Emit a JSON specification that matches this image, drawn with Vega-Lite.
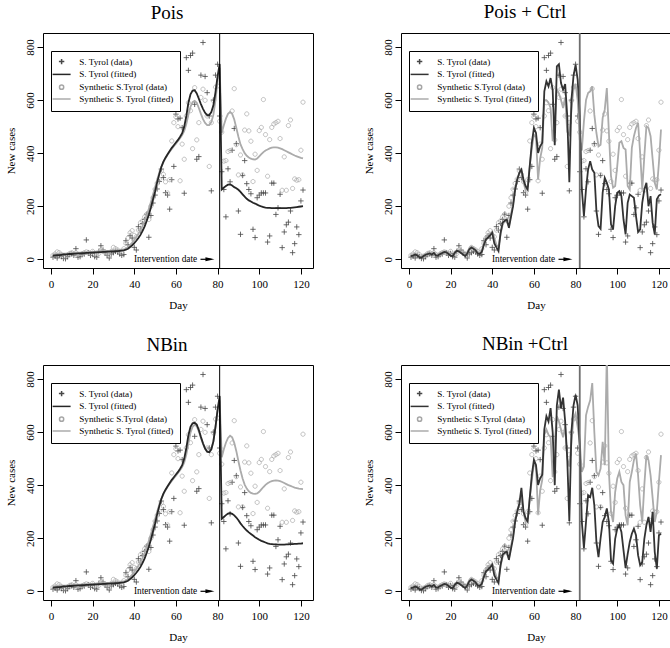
{
"$schema": "https://vega.github.io/schema/vega-lite/v6.json",
"padding": {"left": 4, "top": 2, "right": 0, "bottom": 0},
"columns": 2,
"spacing": {"row": 23, "column": 48},
"resolve": {"scale": {"color": "independent", "shape": "independent", "x": "independent", "y": "independent"}, "legend": {"color": "independent", "shape": "independent"}},
"datasets": {"d": [
{"day":1,"a":8,"b":15,"p1":14,"p2":17,"n1":14,"n2":17,"c1":12,"c2":15,"k1":12,"k2":15},
{"day":2,"a":12,"b":20,"p1":15,"p2":18,"n1":15,"n2":18,"c1":14,"c2":17,"k1":14,"k2":17},
{"day":3,"a":5,"b":28,"p1":16,"p2":19,"n1":16,"n2":19,"c1":18,"c2":22,"k1":18,"k2":22},
{"day":4,"a":15,"b":25,"p1":16,"p2":19,"n1":16,"n2":19,"c1":15,"c2":18,"k1":15,"k2":18},
{"day":5,"a":10,"b":18,"p1":17,"p2":20,"n1":17,"n2":20,"c1":8,"c2":10,"k1":8,"k2":10},
{"day":6,"a":3,"b":10,"p1":18,"p2":21,"n1":18,"n2":21,"c1":6,"c2":9,"k1":6,"k2":9},
{"day":7,"a":2,"b":12,"p1":18,"p2":21,"n1":18,"n2":21,"c1":12,"c2":14,"k1":12,"k2":14},
{"day":8,"a":10,"b":15,"p1":19,"p2":22,"n1":19,"n2":22,"c1":17,"c2":20,"k1":17,"k2":20},
{"day":9,"a":18,"b":22,"p1":20,"p2":23,"n1":20,"n2":23,"c1":20,"c2":23,"k1":20,"k2":23},
{"day":10,"a":20,"b":25,"p1":20,"p2":23,"n1":20,"n2":23,"c1":22,"c2":24,"k1":22,"k2":24},
{"day":11,"a":15,"b":20,"p1":21,"p2":24,"n1":21,"n2":24,"c1":18,"c2":20,"k1":18,"k2":20},
{"day":12,"a":40,"b":25,"p1":21,"p2":24,"n1":21,"n2":24,"c1":24,"c2":25,"k1":24,"k2":25},
{"day":13,"a":8,"b":18,"p1":22,"p2":25,"n1":22,"n2":25,"c1":14,"c2":16,"k1":14,"k2":16},
{"day":14,"a":10,"b":15,"p1":22,"p2":25,"n1":22,"n2":25,"c1":15,"c2":18,"k1":15,"k2":18},
{"day":15,"a":18,"b":20,"p1":23,"p2":26,"n1":23,"n2":26,"c1":20,"c2":22,"k1":20,"k2":22},
{"day":16,"a":20,"b":25,"p1":23,"p2":26,"n1":23,"n2":26,"c1":24,"c2":26,"k1":24,"k2":26},
{"day":17,"a":73,"b":28,"p1":24,"p2":27,"n1":24,"n2":27,"c1":28,"c2":30,"k1":28,"k2":30},
{"day":18,"a":25,"b":25,"p1":24,"p2":27,"n1":24,"n2":27,"c1":26,"c2":27,"k1":26,"k2":27},
{"day":19,"a":15,"b":22,"p1":25,"p2":28,"n1":25,"n2":28,"c1":20,"c2":22,"k1":20,"k2":22},
{"day":20,"a":22,"b":30,"p1":25,"p2":28,"n1":25,"n2":28,"c1":14,"c2":17,"k1":14,"k2":17},
{"day":21,"a":10,"b":20,"p1":26,"p2":29,"n1":26,"n2":29,"c1":12,"c2":15,"k1":12,"k2":15},
{"day":22,"a":8,"b":15,"p1":26,"p2":29,"n1":26,"n2":29,"c1":24,"c2":26,"k1":24,"k2":26},
{"day":23,"a":30,"b":22,"p1":27,"p2":30,"n1":27,"n2":30,"c1":32,"c2":34,"k1":32,"k2":34},
{"day":24,"a":51,"b":35,"p1":27,"p2":30,"n1":27,"n2":30,"c1":30,"c2":32,"k1":30,"k2":32},
{"day":25,"a":35,"b":30,"p1":28,"p2":31,"n1":28,"n2":31,"c1":24,"c2":27,"k1":24,"k2":27},
{"day":26,"a":25,"b":25,"p1":28,"p2":31,"n1":28,"n2":31,"c1":18,"c2":20,"k1":18,"k2":20},
{"day":27,"a":15,"b":20,"p1":29,"p2":32,"n1":29,"n2":32,"c1":12,"c2":15,"k1":12,"k2":15},
{"day":28,"a":5,"b":15,"p1":29,"p2":32,"n1":29,"n2":32,"c1":22,"c2":25,"k1":22,"k2":25},
{"day":29,"a":20,"b":30,"p1":30,"p2":33,"n1":30,"n2":33,"c1":38,"c2":42,"k1":38,"k2":42},
{"day":30,"a":25,"b":45,"p1":30,"p2":33,"n1":30,"n2":33,"c1":44,"c2":48,"k1":44,"k2":48},
{"day":31,"a":30,"b":40,"p1":31,"p2":34,"n1":31,"n2":34,"c1":40,"c2":44,"k1":40,"k2":44},
{"day":32,"a":28,"b":35,"p1":31,"p2":34,"n1":31,"n2":34,"c1":34,"c2":36,"k1":34,"k2":36},
{"day":33,"a":20,"b":30,"p1":32,"p2":35,"n1":32,"n2":35,"c1":22,"c2":25,"k1":22,"k2":25},
{"day":34,"a":15,"b":25,"p1":33,"p2":36,"n1":33,"n2":36,"c1":20,"c2":23,"k1":20,"k2":23},
{"day":35,"a":18,"b":40,"p1":34,"p2":37,"n1":34,"n2":37,"c1":28,"c2":32,"k1":28,"k2":32},
{"day":36,"a":70,"b":60,"p1":36,"p2":40,"n1":36,"n2":40,"c1":55,"c2":62,"k1":55,"k2":62},
{"day":37,"a":55,"b":80,"p1":40,"p2":46,"n1":40,"n2":46,"c1":75,"c2":85,"k1":75,"k2":85},
{"day":38,"a":89,"b":100,"p1":46,"p2":54,"n1":46,"n2":54,"c1":82,"c2":95,"k1":82,"k2":95},
{"day":39,"a":80,"b":108,"p1":53,"p2":63,"n1":53,"n2":63,"c1":90,"c2":95,"k1":90,"k2":95},
{"day":40,"a":45,"b":90,"p1":61,"p2":73,"n1":61,"n2":73,"c1":100,"c2":105,"k1":100,"k2":105},
{"day":41,"a":35,"b":85,"p1":70,"p2":84,"n1":70,"n2":84,"c1":60,"c2":80,"k1":60,"k2":80},
{"day":42,"a":123,"b":110,"p1":80,"p2":96,"n1":80,"n2":96,"c1":45,"c2":55,"k1":45,"k2":55},
{"day":43,"a":110,"b":138,"p1":92,"p2":110,"n1":92,"n2":110,"c1":31,"c2":45,"k1":31,"k2":45},
{"day":44,"a":135,"b":145,"p1":107,"p2":126,"n1":107,"n2":126,"c1":100,"c2":95,"k1":100,"k2":95},
{"day":45,"a":150,"b":160,"p1":124,"p2":145,"n1":124,"n2":145,"c1":138,"c2":130,"k1":138,"k2":130},
{"day":46,"a":170,"b":170,"p1":145,"p2":166,"n1":145,"n2":166,"c1":145,"c2":145,"k1":145,"k2":145},
{"day":47,"a":83,"b":150,"p1":168,"p2":190,"n1":168,"n2":190,"c1":150,"c2":140,"k1":150,"k2":140},
{"day":48,"a":165,"b":200,"p1":195,"p2":216,"n1":195,"n2":216,"c1":119,"c2":125,"k1":119,"k2":125},
{"day":49,"a":212,"b":232,"p1":225,"p2":244,"n1":225,"n2":244,"c1":160,"c2":170,"k1":160,"k2":170},
{"day":50,"a":242,"b":264,"p1":255,"p2":272,"n1":255,"n2":272,"c1":200,"c2":210,"k1":200,"k2":210},
{"day":51,"a":265,"b":286,"p1":290,"p2":300,"n1":290,"n2":300,"c1":263,"c2":265,"k1":263,"k2":265},
{"day":52,"a":293,"b":302,"p1":320,"p2":326,"n1":320,"n2":326,"c1":301,"c2":300,"k1":301,"k2":300},
{"day":53,"a":340,"b":333,"p1":348,"p2":348,"n1":348,"n2":348,"c1":326,"c2":325,"k1":330,"k2":330},
{"day":54,"a":308,"b":320,"p1":368,"p2":366,"n1":368,"n2":366,"c1":338,"c2":330,"k1":390,"k2":350},
{"day":55,"a":251,"b":292,"p1":383,"p2":381,"n1":383,"n2":381,"c1":300,"c2":290,"k1":300,"k2":300},
{"day":56,"a":242,"b":250,"p1":396,"p2":394,"n1":396,"n2":394,"c1":276,"c2":260,"k1":276,"k2":260},
{"day":57,"a":189,"b":300,"p1":408,"p2":405,"n1":408,"n2":405,"c1":263,"c2":275,"k1":263,"k2":275},
{"day":58,"a":300,"b":446,"p1":420,"p2":416,"n1":420,"n2":416,"c1":351,"c2":350,"k1":351,"k2":350},
{"day":59,"a":350,"b":515,"p1":430,"p2":426,"n1":430,"n2":426,"c1":439,"c2":420,"k1":439,"k2":420},
{"day":60,"a":547,"b":537,"p1":440,"p2":436,"n1":440,"n2":436,"c1":495,"c2":470,"k1":495,"k2":480},
{"day":61,"a":529,"b":500,"p1":450,"p2":446,"n1":450,"n2":446,"c1":476,"c2":460,"k1":476,"k2":470},
{"day":62,"a":532,"b":296,"p1":462,"p2":456,"n1":462,"n2":456,"c1":401,"c2":300,"k1":401,"k2":290},
{"day":63,"a":496,"b":434,"p1":475,"p2":468,"n1":475,"n2":468,"c1":426,"c2":380,"k1":426,"k2":380},
{"day":64,"a":249,"b":377,"p1":500,"p2":484,"n1":500,"n2":486,"c1":439,"c2":420,"k1":439,"k2":420},
{"day":65,"a":760,"b":540,"p1":540,"p2":510,"n1":540,"n2":515,"c1":633,"c2":600,"k1":610,"k2":590},
{"day":66,"a":712,"b":590,"p1":590,"p2":545,"n1":588,"n2":558,"c1":671,"c2":600,"k1":660,"k2":610},
{"day":67,"a":768,"b":560,"p1":622,"p2":575,"n1":620,"n2":598,"c1":652,"c2":590,"k1":640,"k2":590},
{"day":68,"a":777,"b":417,"p1":636,"p2":592,"n1":633,"n2":620,"c1":683,"c2":570,"k1":690,"k2":580},
{"day":69,"a":584,"b":647,"p1":637,"p2":597,"n1":635,"n2":628,"c1":639,"c2":445,"k1":600,"k2":430},
{"day":70,"a":377,"b":450,"p1":625,"p2":590,"n1":628,"n2":622,"c1":430,"c2":520,"k1":400,"k2":560},
{"day":71,"a":387,"b":515,"p1":605,"p2":570,"n1":608,"n2":602,"c1":727,"c2":640,"k1":700,"k2":660},
{"day":72,"a":694,"b":610,"p1":585,"p2":548,"n1":582,"n2":578,"c1":735,"c2":625,"k1":760,"k2":640},
{"day":73,"a":817,"b":641,"p1":567,"p2":528,"n1":558,"n2":555,"c1":664,"c2":600,"k1":690,"k2":610},
{"day":74,"a":689,"b":599,"p1":552,"p2":514,"n1":538,"n2":537,"c1":639,"c2":570,"k1":730,"k2":580},
{"day":75,"a":628,"b":540,"p1":543,"p2":506,"n1":526,"n2":526,"c1":660,"c2":610,"k1":640,"k2":620},
{"day":76,"a":540,"b":350,"p1":543,"p2":506,"n1":524,"n2":524,"c1":540,"c2":480,"k1":500,"k2":500},
{"day":77,"a":258,"b":515,"p1":555,"p2":517,"n1":535,"n2":536,"c1":290,"c2":470,"k1":265,"k2":470},
{"day":78,"a":600,"b":597,"p1":580,"p2":545,"n1":565,"n2":566,"c1":600,"c2":560,"k1":600,"k2":560},
{"day":79,"a":694,"b":649,"p1":630,"p2":600,"n1":620,"n2":620,"c1":690,"c2":640,"k1":700,"k2":650},
{"day":80,"a":735,"b":653,"p1":690,"p2":670,"n1":685,"n2":680,"c1":733,"c2":660,"k1":740,"k2":670},
{"day":81,"a":540,"b":520,"p1":735,"p2":722,"n1":735,"n2":720,"c1":677,"c2":600,"k1":701,"k2":620},
{"day":82,"a":330,"b":479,"p1":263,"p2":476,"n1":273,"n2":505,"c1":545,"c2":450,"k1":550,"k2":560},
{"day":83,"a":263,"b":370,"p1":270,"p2":505,"n1":280,"n2":535,"c1":263,"c2":410,"k1":261,"k2":450},
{"day":84,"a":160,"b":372,"p1":276,"p2":530,"n1":287,"n2":560,"c1":163,"c2":520,"k1":163,"k2":470},
{"day":85,"a":341,"b":406,"p1":281,"p2":548,"n1":293,"n2":578,"c1":263,"c2":600,"k1":261,"k2":663},
{"day":86,"a":292,"b":410,"p1":282,"p2":555,"n1":295,"n2":586,"c1":338,"c2":627,"k1":362,"k2":695},
{"day":87,"a":411,"b":559,"p1":278,"p2":548,"n1":292,"n2":580,"c1":370,"c2":633,"k1":355,"k2":720},
{"day":88,"a":493,"b":643,"p1":272,"p2":527,"n1":286,"n2":560,"c1":338,"c2":652,"k1":390,"k2":785},
{"day":89,"a":436,"b":432,"p1":268,"p2":495,"n1":278,"n2":528,"c1":326,"c2":545,"k1":324,"k2":600},
{"day":90,"a":182,"b":318,"p1":262,"p2":462,"n1":268,"n2":490,"c1":182,"c2":476,"k1":186,"k2":450},
{"day":91,"a":94,"b":393,"p1":254,"p2":433,"n1":256,"n2":455,"c1":125,"c2":426,"k1":129,"k2":437},
{"day":92,"a":316,"b":318,"p1":245,"p2":415,"n1":246,"n2":425,"c1":115,"c2":432,"k1":200,"k2":462},
{"day":93,"a":372,"b":487,"p1":236,"p2":400,"n1":237,"n2":402,"c1":251,"c2":533,"k1":261,"k2":563},
{"day":94,"a":285,"b":548,"p1":228,"p2":390,"n1":229,"n2":387,"c1":307,"c2":564,"k1":280,"k2":475},
{"day":95,"a":263,"b":484,"p1":222,"p2":384,"n1":222,"n2":377,"c1":288,"c2":645,"k1":312,"k2":900},
{"day":96,"a":247,"b":445,"p1":218,"p2":379,"n1":216,"n2":371,"c1":263,"c2":476,"k1":261,"k2":450},
{"day":97,"a":113,"b":293,"p1":213,"p2":377,"n1":210,"n2":368,"c1":132,"c2":313,"k1":117,"k2":299},
{"day":98,"a":82,"b":396,"p1":210,"p2":376,"n1":204,"n2":367,"c1":113,"c2":270,"k1":104,"k2":261},
{"day":99,"a":232,"b":335,"p1":206,"p2":380,"n1":199,"n2":369,"c1":200,"c2":276,"k1":198,"k2":374},
{"day":100,"a":242,"b":485,"p1":202,"p2":388,"n1":194,"n2":375,"c1":251,"c2":351,"k1":236,"k2":425},
{"day":101,"a":250,"b":497,"p1":199,"p2":396,"n1":190,"n2":384,"c1":257,"c2":439,"k1":249,"k2":450},
{"day":102,"a":250,"b":602,"p1":197,"p2":404,"n1":187,"n2":393,"c1":238,"c2":445,"k1":224,"k2":412},
{"day":103,"a":250,"b":470,"p1":195,"p2":410,"n1":184,"n2":401,"c1":150,"c2":420,"k1":155,"k2":400},
{"day":104,"a":65,"b":313,"p1":194,"p2":414,"n1":181,"n2":407,"c1":94,"c2":414,"k1":88,"k2":286},
{"day":105,"a":88,"b":451,"p1":194,"p2":418,"n1":179,"n2":412,"c1":213,"c2":276,"k1":140,"k2":249},
{"day":106,"a":287,"b":497,"p1":193,"p2":421,"n1":178,"n2":415,"c1":244,"c2":263,"k1":186,"k2":412},
{"day":107,"a":287,"b":510,"p1":193,"p2":422,"n1":177,"n2":417,"c1":238,"c2":420,"k1":217,"k2":450},
{"day":108,"a":169,"b":515,"p1":193,"p2":422,"n1":177,"n2":418,"c1":232,"c2":464,"k1":236,"k2":494},
{"day":109,"a":194,"b":520,"p1":193,"p2":421,"n1":176,"n2":417,"c1":163,"c2":495,"k1":211,"k2":519},
{"day":110,"a":245,"b":455,"p1":193,"p2":418,"n1":176,"n2":415,"c1":103,"c2":514,"k1":136,"k2":437},
{"day":111,"a":44,"b":260,"p1":193,"p2":415,"n1":176,"n2":412,"c1":113,"c2":400,"k1":98,"k2":324},
{"day":112,"a":103,"b":386,"p1":193,"p2":411,"n1":176,"n2":408,"c1":213,"c2":263,"k1":110,"k2":261},
{"day":113,"a":130,"b":260,"p1":193,"p2":407,"n1":177,"n2":404,"c1":263,"c2":389,"k1":198,"k2":400},
{"day":114,"a":140,"b":504,"p1":194,"p2":403,"n1":177,"n2":400,"c1":288,"c2":501,"k1":249,"k2":513},
{"day":115,"a":182,"b":525,"p1":194,"p2":399,"n1":178,"n2":397,"c1":200,"c2":495,"k1":280,"k2":494},
{"day":116,"a":25,"b":267,"p1":195,"p2":395,"n1":178,"n2":394,"c1":238,"c2":464,"k1":224,"k2":437},
{"day":117,"a":59,"b":303,"p1":196,"p2":391,"n1":179,"n2":391,"c1":138,"c2":376,"k1":299,"k2":350},
{"day":118,"a":122,"b":298,"p1":197,"p2":388,"n1":179,"n2":389,"c1":94,"c2":288,"k1":148,"k2":261},
{"day":119,"a":93,"b":300,"p1":198,"p2":385,"n1":180,"n2":387,"c1":226,"c2":263,"k1":85,"k2":300},
{"day":120,"a":220,"b":411,"p1":199,"p2":382,"n1":180,"n2":386,"c1":240,"c2":364,"k1":211,"k2":412},
{"day":121,"a":261,"b":592,"p1":200,"p2":380,"n1":181,"n2":385,"c1":245,"c2":489,"k1":217,"k2":513}
]},
"concat": [
{"title": "Pois", "width": 270, "height": 235,
 "layer": [
  {"data": {"name": "d"}, "mark": {"type": "point", "filled": false, "opacity": 1, "size": 36, "strokeWidth": 0.8},
   "encoding": {
    "x": {"field": "day", "type": "quantitative", "scale": {"domain": [-3.8, 125.8], "nice": false, "zero": false}, "axis": {"values": [0,20,40,60,80,100,120], "title": "Day"}},
    "y": {"field": "a", "type": "quantitative", "scale": {"domain": [-32.8, 852.8], "nice": false, "zero": false}, "axis": {"values": [0,200,400,600,800], "title": "New cases"}},
    "shape": {"datum": "S. Tyrol (data)", "scale": {"domain": ["S. Tyrol (data)", "S. Tyrol (fitted)", "Synthetic S.Tyrol (data)", "Synthetic S. Tyrol (fitted)"], "range": ["M-0.9,0H0.9M0,-0.9V0.9", "M-3,0H3", "M0.7,0A0.7,0.7,0,1,1,-0.7,0A0.7,0.7,0,1,1,0.7,0Z", "M-3,0H3"]},
      "legend": {"title": null, "orient": "none", "legendX": 8, "legendY": 18, "strokeColor": "#000", "fillColor": "#fff", "padding": 6, "labelFontSize": 9.2, "labelColor": "#000", "labelLimit": 0, "labelOffset": 13, "symbolSize": 36, "rowPadding": 1.8, "encode": {"symbols": {"update": {"strokeWidth": {"signal": "indexof(datum.value, 'fitted') >= 0 ? 2 : 0.9"}, "opacity": {"value": 1}}}}}},
    "color": {"datum": "S. Tyrol (data)", "scale": {"domain": ["S. Tyrol (data)", "S. Tyrol (fitted)", "Synthetic S.Tyrol (data)", "Synthetic S. Tyrol (fitted)"], "range": ["#474747", "#262626", "#a6a6a6", "#ababab"]},
      "legend": {"title": null, "orient": "none", "legendX": 8, "legendY": 18, "strokeColor": "#000", "fillColor": "#fff", "padding": 6, "labelFontSize": 9.2, "labelColor": "#000", "labelLimit": 0, "labelOffset": 13, "symbolSize": 36, "rowPadding": 1.8, "encode": {"symbols": {"update": {"strokeWidth": {"signal": "indexof(datum.value, 'fitted') >= 0 ? 2 : 0.9"}, "opacity": {"value": 1}}}}}}
   }},
  {"data": {"name": "d"}, "mark": {"type": "point", "filled": false, "opacity": 1, "size": 36, "strokeWidth": 0.7},
   "encoding": {"x": {"field": "day", "type": "quantitative"}, "y": {"field": "b", "type": "quantitative"}, "shape": {"datum": "Synthetic S.Tyrol (data)"}, "color": {"datum": "Synthetic S.Tyrol (data)"}}},
  {"data": {"name": "d"}, "mark": {"type": "line", "strokeWidth": 1.8, "clip": true},
   "encoding": {"x": {"field": "day", "type": "quantitative"}, "y": {"field": "p2", "type": "quantitative"}, "color": {"datum": "Synthetic S. Tyrol (fitted)"}}},
  {"data": {"name": "d"}, "mark": {"type": "line", "strokeWidth": 1.8, "clip": true},
   "encoding": {"x": {"field": "day", "type": "quantitative"}, "y": {"field": "p1", "type": "quantitative"}, "color": {"datum": "S. Tyrol (fitted)"}}},
  {"data": {"values": [{"day": 81}]}, "mark": {"type": "rule", "color": "#000", "strokeWidth": 1}, "encoding": {"x": {"field": "day", "type": "quantitative"}}},
  {"data": {"values": [{"day": 70.2, "v": 0, "t": "Intervention date"}]}, "mark": {"type": "text", "align": "right", "baseline": "middle", "fontSize": 9.3, "color": "#000"},
   "encoding": {"x": {"field": "day", "type": "quantitative"}, "y": {"field": "v", "type": "quantitative"}, "text": {"field": "t"}}},
  {"data": {"values": [{"day": 71.8, "day2": 77, "v": 0}]}, "mark": {"type": "rule", "color": "#000", "strokeWidth": 1.2},
   "encoding": {"x": {"field": "day", "type": "quantitative"}, "x2": {"field": "day2"}, "y": {"field": "v", "type": "quantitative"}}},
  {"data": {"values": [{"day": 78.5, "v": 0}]}, "mark": {"type": "point", "shape": "M-2,-0.45L0,0L-2,0.45Z", "size": 81, "filled": true, "color": "#000", "opacity": 1, "strokeWidth": 0},
   "encoding": {"x": {"field": "day", "type": "quantitative"}, "y": {"field": "v", "type": "quantitative"}}}
 ]},
{"title": "Pois + Ctrl", "width": 270, "height": 235,
 "layer": [
  {"data": {"name": "d"}, "mark": {"type": "point", "filled": false, "opacity": 1, "size": 36, "strokeWidth": 0.8},
   "encoding": {
    "x": {"field": "day", "type": "quantitative", "scale": {"domain": [-3.8, 125.8], "nice": false, "zero": false}, "axis": {"values": [0,20,40,60,80,100,120], "title": "Day"}},
    "y": {"field": "a", "type": "quantitative", "scale": {"domain": [-32.8, 852.8], "nice": false, "zero": false}, "axis": {"values": [0,200,400,600,800], "title": "New cases"}},
    "shape": {"datum": "S. Tyrol (data)", "scale": {"domain": ["S. Tyrol (data)", "S. Tyrol (fitted)", "Synthetic S.Tyrol (data)", "Synthetic S. Tyrol (fitted)"], "range": ["M-0.9,0H0.9M0,-0.9V0.9", "M-3,0H3", "M0.7,0A0.7,0.7,0,1,1,-0.7,0A0.7,0.7,0,1,1,0.7,0Z", "M-3,0H3"]},
      "legend": {"title": null, "orient": "none", "legendX": 8, "legendY": 18, "strokeColor": "#000", "fillColor": "#fff", "padding": 6, "labelFontSize": 9.2, "labelColor": "#000", "labelLimit": 0, "labelOffset": 13, "symbolSize": 36, "rowPadding": 1.8, "encode": {"symbols": {"update": {"strokeWidth": {"signal": "indexof(datum.value, 'fitted') >= 0 ? 2 : 0.9"}, "opacity": {"value": 1}}}}}},
    "color": {"datum": "S. Tyrol (data)", "scale": {"domain": ["S. Tyrol (data)", "S. Tyrol (fitted)", "Synthetic S.Tyrol (data)", "Synthetic S. Tyrol (fitted)"], "range": ["#474747", "#333333", "#a6a6a6", "#ababab"]},
      "legend": {"title": null, "orient": "none", "legendX": 8, "legendY": 18, "strokeColor": "#000", "fillColor": "#fff", "padding": 6, "labelFontSize": 9.2, "labelColor": "#000", "labelLimit": 0, "labelOffset": 13, "symbolSize": 36, "rowPadding": 1.8, "encode": {"symbols": {"update": {"strokeWidth": {"signal": "indexof(datum.value, 'fitted') >= 0 ? 2 : 0.9"}, "opacity": {"value": 1}}}}}}
   }},
  {"data": {"name": "d"}, "mark": {"type": "point", "filled": false, "opacity": 1, "size": 36, "strokeWidth": 0.7},
   "encoding": {"x": {"field": "day", "type": "quantitative"}, "y": {"field": "b", "type": "quantitative"}, "shape": {"datum": "Synthetic S.Tyrol (data)"}, "color": {"datum": "Synthetic S.Tyrol (data)"}}},
  {"data": {"name": "d"}, "mark": {"type": "line", "strokeWidth": 1.8, "clip": true},
   "encoding": {"x": {"field": "day", "type": "quantitative"}, "y": {"field": "c2", "type": "quantitative"}, "color": {"datum": "Synthetic S. Tyrol (fitted)"}}},
  {"data": {"name": "d"}, "mark": {"type": "line", "strokeWidth": 1.8, "clip": true},
   "encoding": {"x": {"field": "day", "type": "quantitative"}, "y": {"field": "c1", "type": "quantitative"}, "color": {"datum": "S. Tyrol (fitted)"}}},
  {"data": {"values": [{"day": 82}]}, "mark": {"type": "rule", "color": "#6e6e6e", "strokeWidth": 1.8}, "encoding": {"x": {"field": "day", "type": "quantitative"}}},
  {"data": {"values": [{"day": 70.2, "v": 0, "t": "Intervention date"}]}, "mark": {"type": "text", "align": "right", "baseline": "middle", "fontSize": 9.3, "color": "#000"},
   "encoding": {"x": {"field": "day", "type": "quantitative"}, "y": {"field": "v", "type": "quantitative"}, "text": {"field": "t"}}},
  {"data": {"values": [{"day": 71.8, "day2": 77, "v": 0}]}, "mark": {"type": "rule", "color": "#000", "strokeWidth": 1.2},
   "encoding": {"x": {"field": "day", "type": "quantitative"}, "x2": {"field": "day2"}, "y": {"field": "v", "type": "quantitative"}}},
  {"data": {"values": [{"day": 78.5, "v": 0}]}, "mark": {"type": "point", "shape": "M-2,-0.45L0,0L-2,0.45Z", "size": 81, "filled": true, "color": "#000", "opacity": 1, "strokeWidth": 0},
   "encoding": {"x": {"field": "day", "type": "quantitative"}, "y": {"field": "v", "type": "quantitative"}}}
 ]},
{"title": "NBin", "width": 270, "height": 235,
 "layer": [
  {"data": {"name": "d"}, "mark": {"type": "point", "filled": false, "opacity": 1, "size": 36, "strokeWidth": 0.8},
   "encoding": {
    "x": {"field": "day", "type": "quantitative", "scale": {"domain": [-3.8, 125.8], "nice": false, "zero": false}, "axis": {"values": [0,20,40,60,80,100,120], "title": "Day"}},
    "y": {"field": "a", "type": "quantitative", "scale": {"domain": [-32.8, 852.8], "nice": false, "zero": false}, "axis": {"values": [0,200,400,600,800], "title": "New cases"}},
    "shape": {"datum": "S. Tyrol (data)", "scale": {"domain": ["S. Tyrol (data)", "S. Tyrol (fitted)", "Synthetic S.Tyrol (data)", "Synthetic S. Tyrol (fitted)"], "range": ["M-0.9,0H0.9M0,-0.9V0.9", "M-3,0H3", "M0.7,0A0.7,0.7,0,1,1,-0.7,0A0.7,0.7,0,1,1,0.7,0Z", "M-3,0H3"]},
      "legend": {"title": null, "orient": "none", "legendX": 8, "legendY": 18, "strokeColor": "#000", "fillColor": "#fff", "padding": 6, "labelFontSize": 9.2, "labelColor": "#000", "labelLimit": 0, "labelOffset": 13, "symbolSize": 36, "rowPadding": 1.8, "encode": {"symbols": {"update": {"strokeWidth": {"signal": "indexof(datum.value, 'fitted') >= 0 ? 2 : 0.9"}, "opacity": {"value": 1}}}}}},
    "color": {"datum": "S. Tyrol (data)", "scale": {"domain": ["S. Tyrol (data)", "S. Tyrol (fitted)", "Synthetic S.Tyrol (data)", "Synthetic S. Tyrol (fitted)"], "range": ["#474747", "#262626", "#a6a6a6", "#ababab"]},
      "legend": {"title": null, "orient": "none", "legendX": 8, "legendY": 18, "strokeColor": "#000", "fillColor": "#fff", "padding": 6, "labelFontSize": 9.2, "labelColor": "#000", "labelLimit": 0, "labelOffset": 13, "symbolSize": 36, "rowPadding": 1.8, "encode": {"symbols": {"update": {"strokeWidth": {"signal": "indexof(datum.value, 'fitted') >= 0 ? 2 : 0.9"}, "opacity": {"value": 1}}}}}}
   }},
  {"data": {"name": "d"}, "mark": {"type": "point", "filled": false, "opacity": 1, "size": 36, "strokeWidth": 0.7},
   "encoding": {"x": {"field": "day", "type": "quantitative"}, "y": {"field": "b", "type": "quantitative"}, "shape": {"datum": "Synthetic S.Tyrol (data)"}, "color": {"datum": "Synthetic S.Tyrol (data)"}}},
  {"data": {"name": "d"}, "mark": {"type": "line", "strokeWidth": 1.8, "clip": true},
   "encoding": {"x": {"field": "day", "type": "quantitative"}, "y": {"field": "n2", "type": "quantitative"}, "color": {"datum": "Synthetic S. Tyrol (fitted)"}}},
  {"data": {"name": "d"}, "mark": {"type": "line", "strokeWidth": 1.8, "clip": true},
   "encoding": {"x": {"field": "day", "type": "quantitative"}, "y": {"field": "n1", "type": "quantitative"}, "color": {"datum": "S. Tyrol (fitted)"}}},
  {"data": {"values": [{"day": 81}]}, "mark": {"type": "rule", "color": "#000", "strokeWidth": 1}, "encoding": {"x": {"field": "day", "type": "quantitative"}}},
  {"data": {"values": [{"day": 70.2, "v": 0, "t": "Intervention date"}]}, "mark": {"type": "text", "align": "right", "baseline": "middle", "fontSize": 9.3, "color": "#000"},
   "encoding": {"x": {"field": "day", "type": "quantitative"}, "y": {"field": "v", "type": "quantitative"}, "text": {"field": "t"}}},
  {"data": {"values": [{"day": 71.8, "day2": 77, "v": 0}]}, "mark": {"type": "rule", "color": "#000", "strokeWidth": 1.2},
   "encoding": {"x": {"field": "day", "type": "quantitative"}, "x2": {"field": "day2"}, "y": {"field": "v", "type": "quantitative"}}},
  {"data": {"values": [{"day": 78.5, "v": 0}]}, "mark": {"type": "point", "shape": "M-2,-0.45L0,0L-2,0.45Z", "size": 81, "filled": true, "color": "#000", "opacity": 1, "strokeWidth": 0},
   "encoding": {"x": {"field": "day", "type": "quantitative"}, "y": {"field": "v", "type": "quantitative"}}}
 ]},
{"title": "NBin +Ctrl", "width": 270, "height": 235,
 "layer": [
  {"data": {"name": "d"}, "mark": {"type": "point", "filled": false, "opacity": 1, "size": 36, "strokeWidth": 0.8},
   "encoding": {
    "x": {"field": "day", "type": "quantitative", "scale": {"domain": [-3.8, 125.8], "nice": false, "zero": false}, "axis": {"values": [0,20,40,60,80,100,120], "title": "Day"}},
    "y": {"field": "a", "type": "quantitative", "scale": {"domain": [-32.8, 852.8], "nice": false, "zero": false}, "axis": {"values": [0,200,400,600,800], "title": "New cases"}},
    "shape": {"datum": "S. Tyrol (data)", "scale": {"domain": ["S. Tyrol (data)", "S. Tyrol (fitted)", "Synthetic S.Tyrol (data)", "Synthetic S. Tyrol (fitted)"], "range": ["M-0.9,0H0.9M0,-0.9V0.9", "M-3,0H3", "M0.7,0A0.7,0.7,0,1,1,-0.7,0A0.7,0.7,0,1,1,0.7,0Z", "M-3,0H3"]},
      "legend": {"title": null, "orient": "none", "legendX": 8, "legendY": 18, "strokeColor": "#000", "fillColor": "#fff", "padding": 6, "labelFontSize": 9.2, "labelColor": "#000", "labelLimit": 0, "labelOffset": 13, "symbolSize": 36, "rowPadding": 1.8, "encode": {"symbols": {"update": {"strokeWidth": {"signal": "indexof(datum.value, 'fitted') >= 0 ? 2 : 0.9"}, "opacity": {"value": 1}}}}}},
    "color": {"datum": "S. Tyrol (data)", "scale": {"domain": ["S. Tyrol (data)", "S. Tyrol (fitted)", "Synthetic S.Tyrol (data)", "Synthetic S. Tyrol (fitted)"], "range": ["#474747", "#333333", "#a6a6a6", "#ababab"]},
      "legend": {"title": null, "orient": "none", "legendX": 8, "legendY": 18, "strokeColor": "#000", "fillColor": "#fff", "padding": 6, "labelFontSize": 9.2, "labelColor": "#000", "labelLimit": 0, "labelOffset": 13, "symbolSize": 36, "rowPadding": 1.8, "encode": {"symbols": {"update": {"strokeWidth": {"signal": "indexof(datum.value, 'fitted') >= 0 ? 2 : 0.9"}, "opacity": {"value": 1}}}}}}
   }},
  {"data": {"name": "d"}, "mark": {"type": "point", "filled": false, "opacity": 1, "size": 36, "strokeWidth": 0.7},
   "encoding": {"x": {"field": "day", "type": "quantitative"}, "y": {"field": "b", "type": "quantitative"}, "shape": {"datum": "Synthetic S.Tyrol (data)"}, "color": {"datum": "Synthetic S.Tyrol (data)"}}},
  {"data": {"name": "d"}, "mark": {"type": "line", "strokeWidth": 1.8, "clip": true},
   "encoding": {"x": {"field": "day", "type": "quantitative"}, "y": {"field": "k2", "type": "quantitative"}, "color": {"datum": "Synthetic S. Tyrol (fitted)"}}},
  {"data": {"name": "d"}, "mark": {"type": "line", "strokeWidth": 1.8, "clip": true},
   "encoding": {"x": {"field": "day", "type": "quantitative"}, "y": {"field": "k1", "type": "quantitative"}, "color": {"datum": "S. Tyrol (fitted)"}}},
  {"data": {"values": [{"day": 82}]}, "mark": {"type": "rule", "color": "#6e6e6e", "strokeWidth": 1.8}, "encoding": {"x": {"field": "day", "type": "quantitative"}}},
  {"data": {"values": [{"day": 70.2, "v": 0, "t": "Intervention date"}]}, "mark": {"type": "text", "align": "right", "baseline": "middle", "fontSize": 9.3, "color": "#000"},
   "encoding": {"x": {"field": "day", "type": "quantitative"}, "y": {"field": "v", "type": "quantitative"}, "text": {"field": "t"}}},
  {"data": {"values": [{"day": 71.8, "day2": 77, "v": 0}]}, "mark": {"type": "rule", "color": "#000", "strokeWidth": 1.2},
   "encoding": {"x": {"field": "day", "type": "quantitative"}, "x2": {"field": "day2"}, "y": {"field": "v", "type": "quantitative"}}},
  {"data": {"values": [{"day": 78.5, "v": 0}]}, "mark": {"type": "point", "shape": "M-2,-0.45L0,0L-2,0.45Z", "size": 81, "filled": true, "color": "#000", "opacity": 1, "strokeWidth": 0},
   "encoding": {"x": {"field": "day", "type": "quantitative"}, "y": {"field": "v", "type": "quantitative"}}}
 ]}
],
"config": {
 "font": "Liberation Serif",
 "view": {"stroke": "#000", "strokeWidth": 1},
 "axis": {"grid": false, "domain": false, "ticks": true, "tickColor": "#000", "tickSize": 6, "tickWidth": 1, "labelFont": "Liberation Serif", "labelFontSize": 11, "labelColor": "#000", "titleFont": "Liberation Serif", "titleFontSize": 11, "titleFontWeight": "normal", "titleColor": "#000"},
 "axisX": {"labelPadding": 4, "titlePadding": 10},
 "axisY": {"labelAngle": -90, "labelAlign": "center", "labelBaseline": "bottom", "labelPadding": 2, "titlePadding": 8},
 "legend": {"labelFont": "Liberation Serif"},
 "title": {"font": "Liberation Serif", "fontSize": 19, "fontWeight": "normal", "color": "#000", "dx": -11, "offset": 10}
}
}
